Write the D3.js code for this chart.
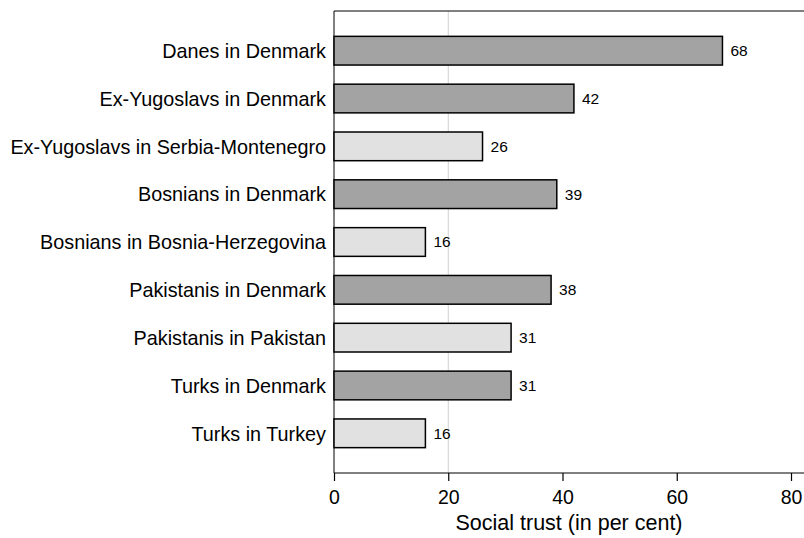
<!DOCTYPE html>
<html>
<head>
<meta charset="utf-8">
<script src="https://cdn.jsdelivr.net/npm/d3@7"></script>
<style>
  body { margin: 0; background: #fff; }
  text { font-family: "Liberation Sans", Arial, sans-serif; fill: #000; }
</style>
</head>
<body>
<svg width="804" height="538"></svg>
<script>
let categories = ["Danes in Denmark", "Ex-Yugoslavs in Denmark", "Ex-Yugoslavs in Serbia-Montenegro",
    "Bosnians in Denmark", "Bosnians in Bosnia-Herzegovina", "Pakistanis in Denmark",
    "Pakistanis in Pakistan", "Turks in Denmark", "Turks in Turkey"];
let values = [68, 42, 26, 39, 16, 38, 31, 31, 16];
let inDenmark = [true, true, false, true, false, true, false, true, false];
let xTicks = [0, 20, 40, 60, 80];

let svg = d3.select("svg"),
    margin = {top: 11, right: 0, bottom: 65, left: 334},
    width = +svg.attr("width") - margin.left - margin.right,
    height = +svg.attr("height") - margin.top - margin.bottom;

let x = d3.scaleLinear().domain([0, 80]).range([0, 457]);
let y = d3.scaleBand().domain(categories).range([0, height]).paddingInner(0.4).paddingOuter(0.53);

let g = svg.append("g")
    .attr("transform", "translate(" + margin.left + "," + margin.top + ")");

// reference line at 20
g.append("line")
    .attr("x1", x(20)).attr("x2", x(20))
    .attr("y1", 0).attr("y2", height)
    .attr("stroke", "#d0d0d0").attr("stroke-width", 1);

// frame: top and left
g.append("line").attr("x1", 0).attr("x2", width).attr("y1", 0).attr("y2", 0)
    .attr("stroke", "#000").attr("stroke-width", 1);
g.append("line").attr("x1", 0).attr("x2", 0).attr("y1", 0).attr("y2", height)
    .attr("stroke", "#000").attr("stroke-width", 1);

g.selectAll(".bar")
    .data(values)
    .enter().append("rect")
    .attr("class", "bar")
    .attr("x", x(0))
    .attr("y", (d, i) => y(categories[i]))
    .attr("width", d => x(d) - x(0))
    .attr("height", y.bandwidth())
    .attr("fill", (d, i) => inDenmark[i] ? "#a3a3a3" : "#e1e1e1")
    .attr("stroke", "#000")
    .attr("stroke-width", 1.5);

g.selectAll(".val")
    .data(values)
    .enter().append("text")
    .attr("class", "val")
    .attr("x", d => x(d) + 8)
    .attr("y", (d, i) => y(categories[i]) + y.bandwidth() / 2)
    .attr("dy", "0.35em")
    .attr("font-size", 15.5)
    .text(d => d);

g.selectAll(".cat")
    .data(categories)
    .enter().append("text")
    .attr("class", "cat")
    .attr("x", -8)
    .attr("y", d => y(d) + y.bandwidth() / 2)
    .attr("dy", "0.37em")
    .attr("text-anchor", "end")
    .attr("font-size", 19.8)
    .text(d => d);

// x axis
let xAxis = g.append("g")
    .attr("transform", "translate(0," + height + ")")
    .call(d3.axisBottom(x).tickValues(xTicks).tickSize(8).tickSizeOuter(0).tickPadding(9));
xAxis.select(".domain").remove();
xAxis.append("line").attr("x1", 0).attr("x2", width).attr("stroke", "#000").attr("stroke-width", 1.2);
xAxis.selectAll(".tick line").attr("stroke", "#000").attr("stroke-width", 1.2);
xAxis.selectAll(".tick text").attr("font-size", 19.5).attr("font-family", "Liberation Sans, Arial, sans-serif").attr("fill", "#000");

g.append("text")
    .attr("x", width / 2)
    .attr("y", height + 57)
    .attr("text-anchor", "middle")
    .attr("font-size", 21.5)
    .text("Social trust (in per cent)");
</script>
</body>
</html>
